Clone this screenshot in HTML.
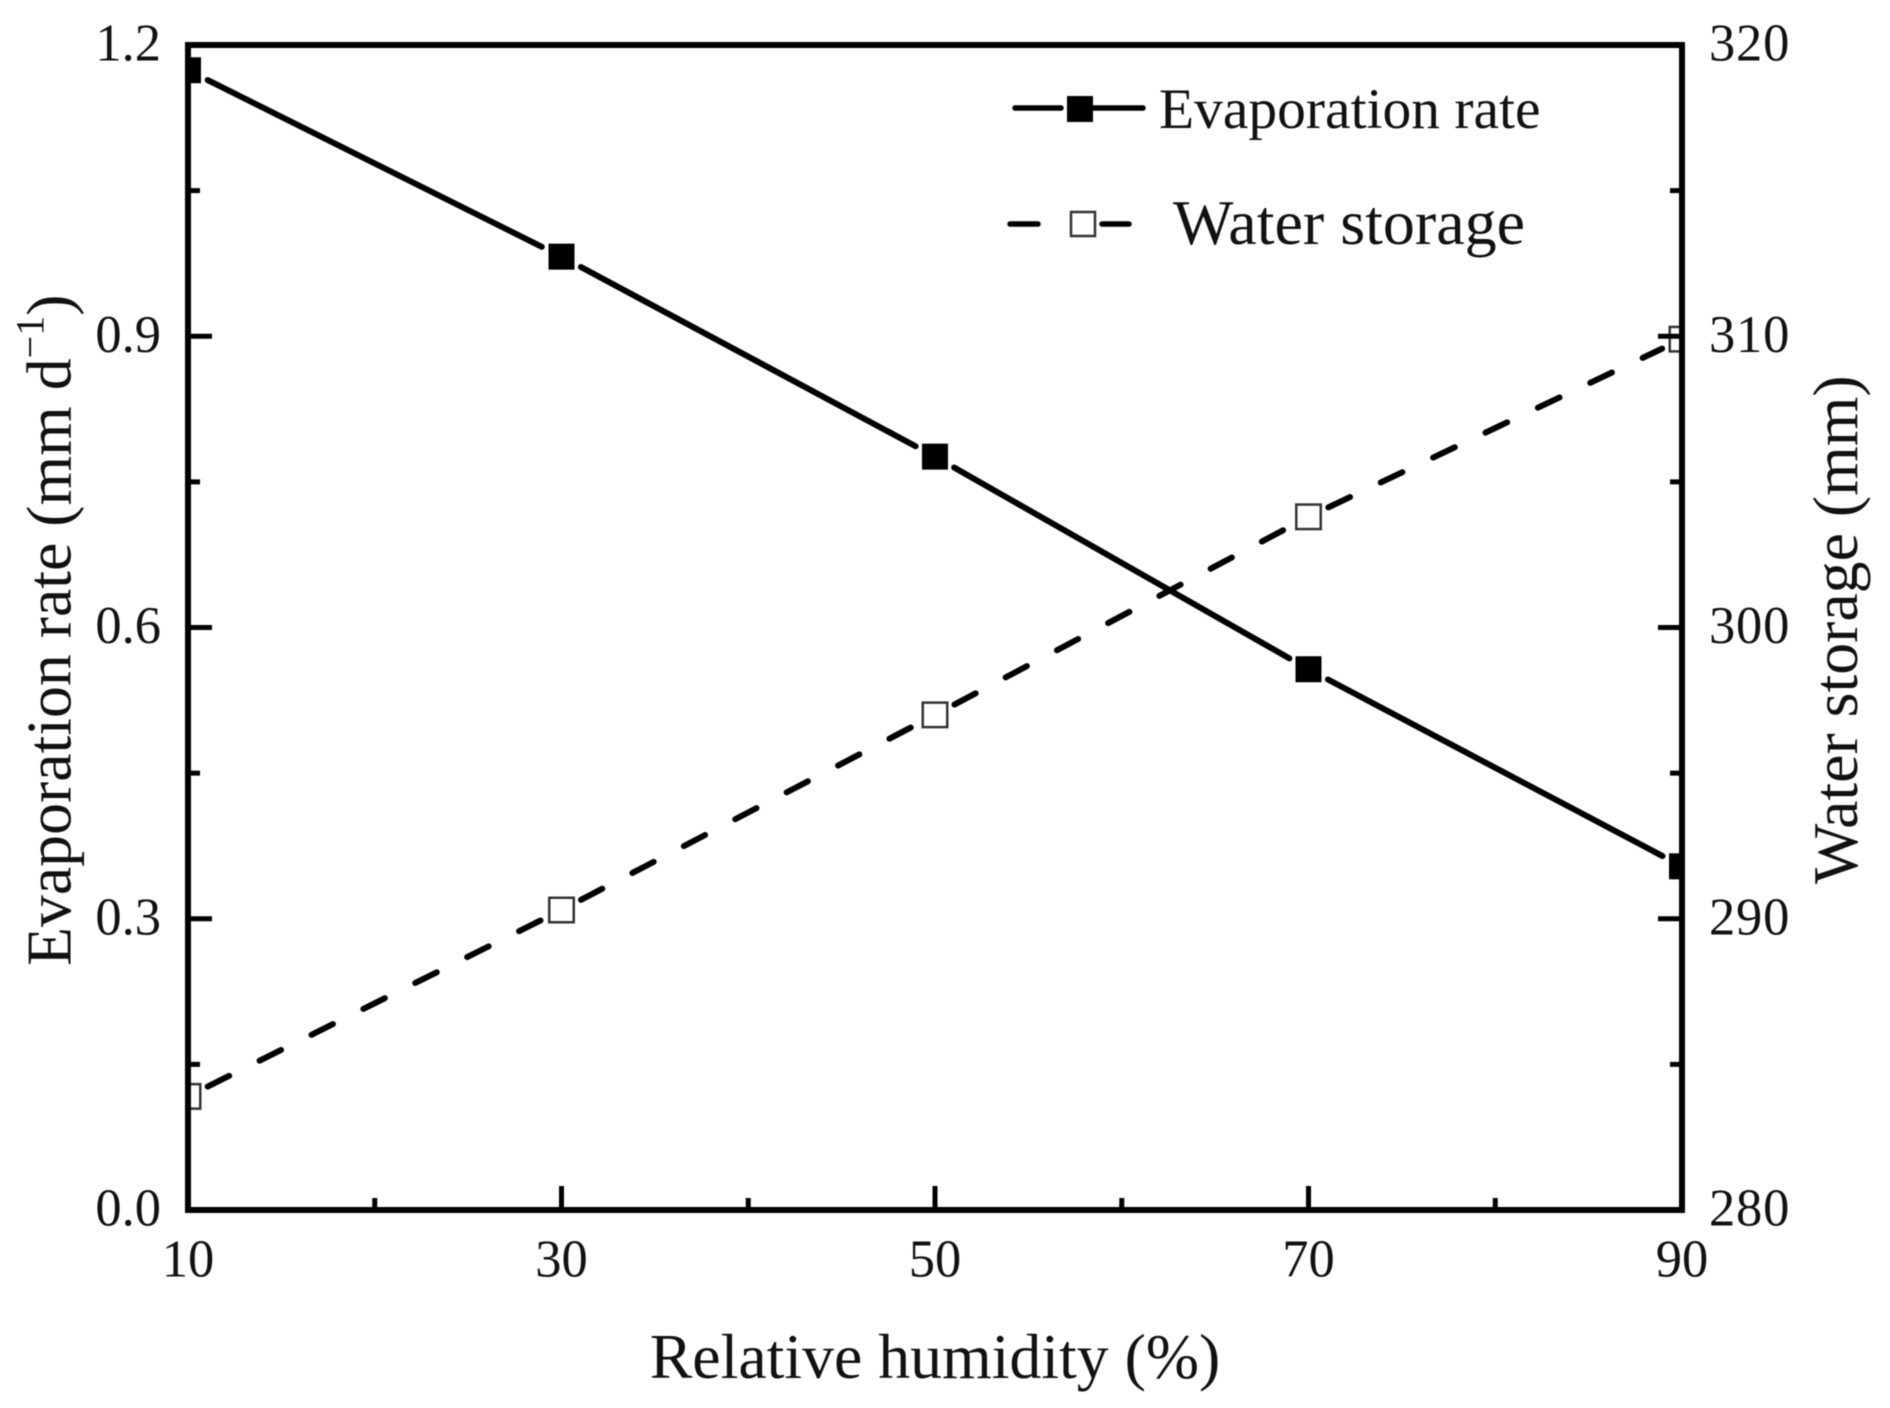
<!DOCTYPE html>
<html lang="en">
<head>
<meta charset="utf-8">
<title>Evaporation rate and water storage vs relative humidity</title>
<style>
html,body{margin:0;padding:0;background:#fff;}
svg{display:block;filter:blur(0.5px);}
text{font-family:"Liberation Serif","Times New Roman",serif;fill:#111;}
</style>
</head>
<body>
<svg id="chart" xmlns="http://www.w3.org/2000/svg" width="1890" height="1408" viewBox="0 0 1890 1408">
  <defs>
    <clipPath id="plot-clip"><rect x="188" y="45" width="1494" height="1165"/></clipPath>
  </defs>
  <rect x="0" y="0" width="1890" height="1408" fill="#ffffff"/>
  <g id="series" clip-path="url(#plot-clip)"></g>
  <g id="axes"></g>
  <rect x="188" y="45" width="1494" height="1165" fill="none" stroke="#000" stroke-width="6"/>

  <text x="935" y="1378" font-size="63.8" text-anchor="middle">Relative humidity (%)</text>
  <text transform="translate(70.7 966) rotate(-90)" font-size="63.8">Evaporation rate (mm d<tspan font-size="40" dy="-27">−1</tspan><tspan dy="27">)</tspan></text>
  <text transform="translate(1857 884) rotate(-90)" font-size="63.8">Water storage (mm)</text>

  <g>
    <g>
      <line x1="1015" y1="108" x2="1061" y2="108" stroke="#000" stroke-width="5.5" stroke-linecap="round"/>
      <line x1="1094" y1="108" x2="1143" y2="108" stroke="#000" stroke-width="5.5" stroke-linecap="round"/>
      <rect x="1067" y="96" width="26" height="26" fill="#000"/>
      <text x="1159" y="128" font-size="57.5">Evaporation rate</text>
    </g>
    <g>
      <line x1="1010" y1="224" x2="1038" y2="224" stroke="#000" stroke-width="5.5" stroke-linecap="round"/>
      <line x1="1102" y1="224" x2="1129" y2="224" stroke="#000" stroke-width="5.5" stroke-linecap="round"/>
      <rect x="1071" y="212" width="24" height="24" fill="#fff" stroke="#333" stroke-width="2.5"/>
      <text x="1173" y="244" font-size="64">Water storage</text>
    </g>
  </g>
</svg>
<script>
const humidity = [10, 30, 50, 70, 90];
const evaporationRate = [1.174, 0.982, 0.776, 0.557, 0.354];
const waterStorage = [283.9, 290.3, 297.0, 303.8, 309.9];

const xMajorTicks = [10, 30, 50, 70, 90];
const xMinorTicks = [20, 40, 60, 80];
const leftMajorTicks = ["0.0", "0.3", "0.6", "0.9", "1.2"];
const leftMinorTicks = [0.15, 0.45, 0.75, 1.05];
const rightMajorTicks = ["280", "290", "300", "310", "320"];
const rightMinorTicks = [285, 295, 305, 315];

const NS = 'http://www.w3.org/2000/svg';
const PLOT = { left: 188, right: 1682, top: 45, bottom: 1210 };

function xScale(v) { return PLOT.left + (v - 10) / (90 - 10) * (PLOT.right - PLOT.left); }
function yLeft(v) { return PLOT.bottom - (v - 0) / (1.2 - 0) * (PLOT.bottom - PLOT.top); }
function yRight(v) { return PLOT.bottom - (v - 280) / (320 - 280) * (PLOT.bottom - PLOT.top); }

function make(tag, parent, attrs, text) {
  const el = document.createElementNS(NS, tag);
  for (const k in attrs) el.setAttribute(k, attrs[k]);
  if (text !== undefined) el.textContent = text;
  parent.appendChild(el);
  return el;
}

const axes = document.getElementById('axes');
const series = document.getElementById('series');
const MAJOR = 24, MINOR = 12, TICK_W = 5;

xMajorTicks.forEach(function (v) {
  const x = xScale(v);
  const tick = make('line', axes, { x1: x, y1: PLOT.bottom, x2: x, y2: PLOT.bottom - MAJOR, stroke: '#000', 'stroke-width': TICK_W });
  
  
  const label = make('text', axes, { x: x, y: 1276.5, 'font-size': 52.5, 'text-anchor': 'middle' }, String(v));
  
  
});
xMinorTicks.forEach(function (v) {
  const x = xScale(v);
  const tick = make('line', axes, { x1: x, y1: PLOT.bottom, x2: x, y2: PLOT.bottom - MINOR, stroke: '#000', 'stroke-width': TICK_W });
  
  
});
leftMajorTicks.forEach(function (s) {
  const y = yLeft(parseFloat(s));
  const tick = make('line', axes, { x1: PLOT.left, y1: y, x2: PLOT.left + MAJOR, y2: y, stroke: '#000', 'stroke-width': TICK_W });
  
  
  const label = make('text', axes, { x: 161, y: y + 15.7, 'font-size': 52.5, 'text-anchor': 'end' }, s);
  
  
});
leftMinorTicks.forEach(function (v) {
  const y = yLeft(v);
  const tick = make('line', axes, { x1: PLOT.left, y1: y, x2: PLOT.left + MINOR, y2: y, stroke: '#000', 'stroke-width': TICK_W });
  
  
});
rightMajorTicks.forEach(function (s) {
  const y = yRight(parseFloat(s));
  const tick = make('line', axes, { x1: PLOT.right, y1: y, x2: PLOT.right - MAJOR, y2: y, stroke: '#000', 'stroke-width': TICK_W });
  
  
  const label = make('text', axes, { x: 1709, y: y + 15.7, 'font-size': 52.5, 'letter-spacing': 0.8 }, s);
  
  
});
rightMinorTicks.forEach(function (v) {
  const y = yRight(v);
  const tick = make('line', axes, { x1: PLOT.right, y1: y, x2: PLOT.right - MINOR, y2: y, stroke: '#000', 'stroke-width': TICK_W });
  
  
});

function drawSegments(values, yFn, dash, name) {
  const GAP = 22;
  for (let i = 0; i < values.length - 1; i++) {
    const x0 = xScale(humidity[i]), y0 = yFn(values[i]);
    const x1 = xScale(humidity[i + 1]), y1 = yFn(values[i + 1]);
    const len = Math.hypot(x1 - x0, y1 - y0);
    const ux = (x1 - x0) / len, uy = (y1 - y0) / len;
    const seg = make('line', series, {
      x1: x0 + ux * GAP, y1: y0 + uy * GAP,
      x2: x1 - ux * GAP, y2: y1 - uy * GAP,
      stroke: '#000', 'stroke-width': 6, 'stroke-linecap': 'round'
    });
    if (dash) seg.setAttribute('stroke-dasharray', dash);
    
    
  }
}

function drawMarkers(values, yFn, filled, name) {
  values.forEach(function (v, i) {
    const x = xScale(humidity[i]), y = yFn(v);
    const size = filled ? 26 : 24.5;
    const m = make('rect', series, {
      x: x - size / 2, y: y - size / 2, width: size, height: size,
      fill: filled ? '#000' : '#fff',
      stroke: filled ? 'none' : '#333',
      'stroke-width': filled ? 0 : 2.5
    });
    
    
  });
}

drawSegments(waterStorage, yRight, '24 34', 'water-storage');
drawSegments(evaporationRate, yLeft, null, 'evaporation-rate');
drawMarkers(waterStorage, yRight, false, 'water-storage');
drawMarkers(evaporationRate, yLeft, true, 'evaporation-rate');
</script>
</body>
</html>
